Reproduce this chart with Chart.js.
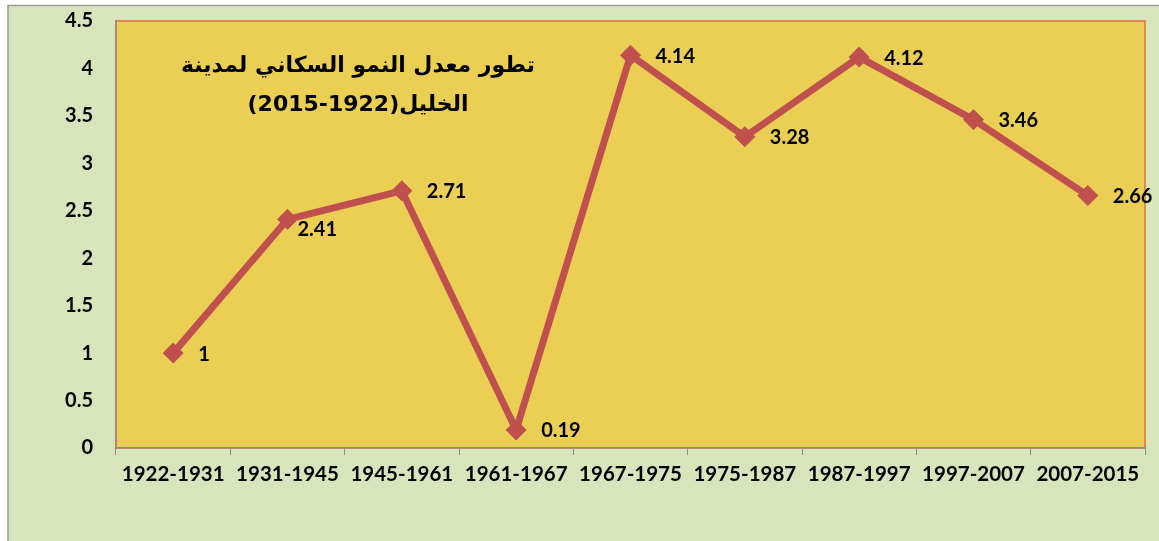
<!DOCTYPE html>
<html>
<head>
<meta charset="utf-8">
<script src="https://cdn.jsdelivr.net/npm/chart.js@4.4.0/dist/chart.umd.min.js"></script>
<style>
  html, body { margin: 0; padding: 0; background: #ffffff; }
</style>
</head>
<body>
<canvas id="GraficoNumo" width="1159" height="541"></canvas>
<script>
// periods on the x axis
var periodes = ["1922-1931", "1931-1945", "1945-1961", "1961-1967", "1967-1975",
                "1975-1987", "1987-1997", "1997-2007", "2007-2015"];
// growth rate (%)
var taux = [1, 2.41, 2.71, 0.19, 4.14, 3.28, 4.12, 3.46, 2.66];
var yTicks = [0, 0.5, 1, 1.5, 2, 2.5, 3, 3.5, 4, 4.5];
var titre = ["تطور معدل النمو السكاني لمدينة", "الخليل(1922-2015)"];

var fonte = "Lato, 'DejaVu Sans', sans-serif";

// background + plot area fill
var fundo = {
    id: 'fundo',
    beforeDraw: function (chart) {
        var ctx = chart.ctx, a = chart.chartArea;
        ctx.save();
        ctx.fillStyle = "#ffffff";
        ctx.fillRect(0, 0, chart.width, chart.height);
        ctx.fillStyle = "#d8e4bc";
        ctx.fillRect(8, 6, chart.width - 8, chart.height - 6);
        ctx.strokeStyle = "#9a9a9a";
        ctx.lineWidth = 1.5;
        ctx.beginPath();
        ctx.moveTo(8, chart.height); ctx.lineTo(8, 5.5); ctx.lineTo(chart.width, 5.5);
        ctx.stroke();
        ctx.fillStyle = "#ebcf55";
        ctx.fillRect(a.left, a.top, a.right - a.left, a.bottom - a.top);
        ctx.strokeStyle = "#e0703a";
        ctx.lineWidth = 1.5;
        ctx.strokeRect(a.left, a.top, a.right - a.left, a.bottom - a.top);
        ctx.restore();
    }
};

// title inside the plot, and value labels at the right of each point
var textos = {
    id: 'textos',
    afterDatasetsDraw: function (chart) {
        var ctx = chart.ctx;
        ctx.save();
        ctx.fillStyle = "#000000";
        ctx.font = "bold 22px 'DejaVu Sans', sans-serif";
        ctx.direction = "rtl";
        ctx.textAlign = "center";
        ctx.textBaseline = "middle";
        ctx.fillText(titre[0], 358, 66);
        ctx.fillText(titre[1], 358, 105);

        ctx.direction = "ltr";
        ctx.textAlign = "left";
        ctx.font = "bold 20px " + fonte;
        var pts = chart.getDatasetMeta(0).data;
        pts.forEach(function (p, i) {
            var dx = 25, dy = 1;
            if (i === 1) { dx = 10; dy = 10; }
            ctx.fillText(String(taux[i]), p.x + dx, p.y + dy);
        });
        ctx.restore();
    }
};

new Chart(document.getElementById("GraficoNumo"), {
    type: 'line',
    data: {
        labels: periodes,
        datasets: [{
            label: "معدل النمو",
            data: taux,
            borderColor: "#c0504d",
            backgroundColor: "#c0504d",
            borderWidth: 7,
            pointStyle: 'rectRot',
            pointRadius: 10,
            pointHoverRadius: 10,
            pointBorderWidth: 1,
            fill: false,
            tension: 0
        }]
    },
    options: {
        responsive: false,
        animation: false,
        devicePixelRatio: 1,
        layout: { padding: { top: 21, right: 14, left: 0, bottom: 0 } },
        plugins: {
            legend: { display: false },
            tooltip: { enabled: false },
            title: { display: false }
        },
        scales: {
            x: {
                offset: true,
                grid: { offset: true, drawOnChartArea: false, drawTicks: true, tickLength: 7, color: "#8c8c8c" },
                border: { display: true, color: "#8c8c8c", width: 1.5 },
                ticks: { color: "#000", padding: 7, maxRotation: 0, font: { family: fonte, size: 20.5, weight: 'bold' } },
                afterFit: function (s) { s.height = 93; s.paddingLeft = 0; s.paddingRight = 0; }
            },
            y: {
                min: 0,
                max: 4.5,
                afterBuildTicks: function (s) { s.ticks = yTicks.map(function (v) { return { value: v }; }); },
                grid: { display: false, drawTicks: false },
                border: { display: true, color: "#8c8c8c", width: 1.5 },
                ticks: {
                    color: "#000", padding: 23, font: { family: fonte, size: 20, weight: 'bold' },
                    callback: function (v) { return String(v); }
                },
                afterFit: function (s) { s.width = 116; s.paddingTop = 0; s.paddingBottom = 0; }
            }
        }
    },
    plugins: [fundo, textos]
});
</script>
</body>
</html>
